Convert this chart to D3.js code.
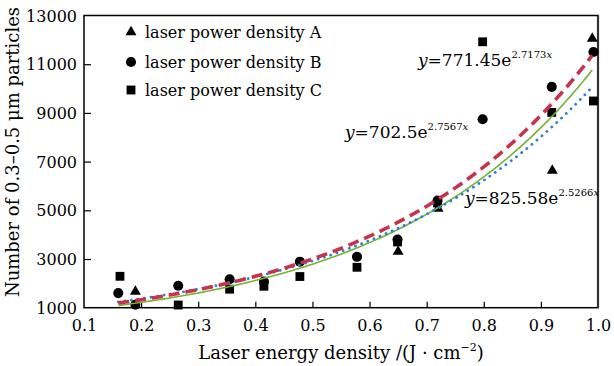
<!DOCTYPE html>
<html><head><meta charset="utf-8">
<script src="https://cdn.jsdelivr.net/npm/d3@7/dist/d3.min.js"></script>
<style>body{margin:0;background:#fff}svg{display:block}</style>
</head><body>
<svg id="c" width="614" height="366"></svg>
<script>
// ---- data ----
const xTicks = [0.1,0.2,0.3,0.4,0.5,0.6,0.7,0.8,0.9,1.0];
const yTicks = [1000,3000,5000,7000,9000,11000,13000];
const seriesNames = ["laser power density A","laser power density B","laser power density C"];
const seriesA = [[0.19,1660],[0.65,3300],[0.72,5070],[0.92,6630],[0.99,12050]];
const seriesB = [[0.16,1600],[0.19,1120],[0.265,1900],[0.355,2170],[0.415,2070],[0.478,2890],[0.578,3090],[0.649,3800],[0.719,5400],[0.798,8740],[0.919,10070],[0.992,11500]];
const seriesC = [[0.163,2290],[0.265,1110],[0.355,1760],[0.415,1880],[0.478,2280],[0.578,2660],[0.649,3700],[0.719,5300],[0.798,11920],[0.919,9020],[0.992,9490]];
// fitted trend lines y = a*e^(b x)
const fitA = [702.5, 2.7567];
const fitB = [771.45, 2.7173];
const fitC = [825.58, 2.5266];
const fitRange = [0.16, 0.993];
const eqLabels = ["702.5","771.45","825.58"];
const eqExps = ["2.7567","2.7173","2.5266"];

// ---- layout ----
const svg = d3.select("#c");
const L=84, R=598, T=15.5, B=307.7;
const x = d3.scaleLinear().domain([0.1,1.0]).range([L,R]);
const y = d3.scaleLinear().domain([1000,13000]).range([B,T]);
const font = "'DejaVu Serif', serif";

// axes (ticks inward)
const gx = svg.append("g").attr("transform",`translate(0,${B})`)
  .call(d3.axisBottom(x).tickValues(xTicks).tickSize(-6).tickSizeOuter(0).tickPadding(12).tickFormat(d3.format(".1f")));
const gy = svg.append("g").attr("transform",`translate(${L},0)`)
  .call(d3.axisLeft(y).tickValues(yTicks).tickSize(-7).tickSizeOuter(0).tickPadding(7).tickFormat(d3.format("d")));
[gx,gy].forEach(g=>{
  g.select(".domain").remove();
  g.selectAll("line").attr("stroke","#000").attr("stroke-width",1.2);
  g.selectAll("text").attr("font-family",font).attr("font-size",16).attr("fill","#000");
});
gx.selectAll(".tick").filter(d=>d===0.1||d===1.0).select("line").remove();
gy.selectAll(".tick").filter(d=>d===1000||d===13000).select("line").remove();
gy.selectAll("text").attr("dy","0.35em");

svg.append("rect").attr("x",L).attr("y",T).attr("width",R-L).attr("height",B-T)
  .attr("fill","none").attr("stroke","#000").attr("stroke-width",1.5);
svg.append("line").attr("x1",R).attr("x2",R).attr("y1",T).attr("y2",B).attr("stroke","#333").attr("stroke-width",2.2);

// markers
const sym = {
  A: d3.symbol().type(d3.symbolTriangle).size(52),
  B: d3.symbol().type(d3.symbolCircle).size(80),
  C: d3.symbol().type(d3.symbolSquare).size(78)
};
function drawPts(data, s){
  svg.append("g").selectAll("path").data(data).join("path")
    .attr("d", s).attr("fill","#000")
    .attr("transform",d=>`translate(${x(d[0])},${y(d[1])})`);
}
drawPts(seriesA, sym.A);
drawPts(seriesB, sym.B);
drawPts(seriesC, sym.C);

// fitted curves
const line = d3.line().x(d=>x(d[0])).y(d=>y(d[1])).curve(d3.curveLinear);
function fitPts(f){ return d3.range(fitRange[0], fitRange[1]+1e-9, 0.005).map(v=>[v, f[0]*Math.exp(f[1]*v)]); }
svg.append("path").attr("d",line(fitPts(fitA))).attr("fill","none").attr("stroke","#72b534").attr("stroke-width",1.6);
svg.append("path").attr("d",line(fitPts(fitC))).attr("fill","none").attr("stroke","#2f7fd3").attr("stroke-width",2.8)
  .attr("stroke-dasharray","0.1,6.5").attr("stroke-linecap","round");
svg.append("path").attr("d",line(fitPts(fitB))).attr("fill","none").attr("stroke","#c6334c").attr("stroke-width",3.6)
  .attr("stroke-dasharray","11,6");

// equations
function eq(px, py, coef, ex){
  const t = svg.append("text").attr("x",px).attr("y",py).attr("font-family",font).attr("font-size",17).attr("fill","#000");
  t.append("tspan").attr("font-style","italic").text("y");
  t.append("tspan").text("=" + coef + "e");
  t.append("tspan").attr("font-size",10).attr("dy",-8).text(ex);
  t.append("tspan").attr("font-size",10).attr("font-style","italic").text("x");
}
eq(418, 66, eqLabels[1], eqExps[1]);
eq(345, 138, eqLabels[0], eqExps[0]);
eq(465, 204, eqLabels[2], eqExps[2]);

// legend
const legY = [32, 62, 90];
const legSyms = [sym.A, sym.B, sym.C];
seriesNames.forEach((n,i)=>{
  svg.append("path").attr("d",legSyms[i]).attr("fill","#000").attr("transform",`translate(131,${legY[i]})`);
  svg.append("text").attr("x",145).attr("y",legY[i]+5.5).attr("font-family",font).attr("font-size",16).text(n);
});

// axis titles
const xt = svg.append("text").attr("x",(L+R)/2).attr("y",359).attr("text-anchor","middle")
  .attr("font-family",font).attr("font-size",18);
xt.append("tspan").text("Laser energy density /(J · cm");
xt.append("tspan").attr("font-size",11).attr("dy",-8).text("−2");
xt.append("tspan").attr("dy",8).text(")");

svg.append("text").attr("transform","translate(19,152) rotate(-90)").attr("text-anchor","middle")
  .attr("font-family",font).attr("font-size",18).text("Number of 0.3–0.5 μm particles");
</script>
</body></html>
